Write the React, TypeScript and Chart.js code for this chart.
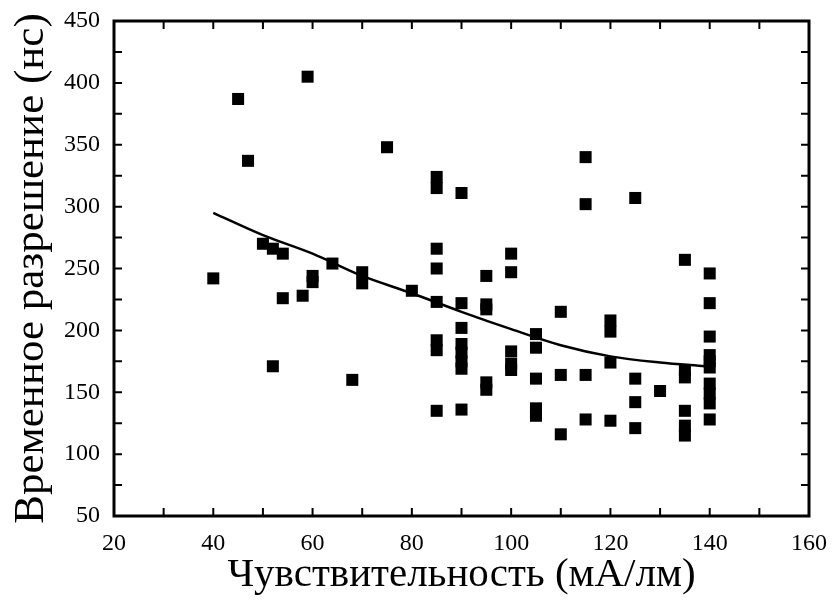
import React, { useEffect, useRef } from "react";
import { Chart, registerables } from "chart.js";

Chart.register(...registerables);

// Scatter data: sensitivity (mA/lm) vs time resolution (ns)
const sensitivity = [
  40, 45, 47, 50, 52, 54, 52, 54, 59, 58, 60, 60, 64, 68, 70, 70, 75, 80,
  85, 85, 85, 85, 85, 85, 85, 85,
  90, 90, 90, 90, 90, 90, 90, 90,
  95, 95, 95, 95, 95,
  100, 100, 100, 100, 100,
  105, 105, 105, 105, 105,
  110, 110, 110,
  115, 115, 115, 115,
  120, 120, 120, 120,
  125, 125, 125, 125,
  130,
  135, 135, 135, 135, 135, 135,
  140, 140, 140, 140, 140, 140, 140, 140, 140, 140,
];
const resolution = [
  242, 387, 337, 270, 266, 262, 171, 226, 405, 228, 244, 239, 254, 160, 247, 238, 348, 232,
  324, 315, 266, 250, 223, 192, 184, 135,
  311, 222, 202, 189, 182, 175, 169, 136,
  244, 221, 217, 158, 152,
  262, 247, 183, 173, 168,
  197, 186, 161, 137, 131,
  215, 164, 116,
  340, 302, 164, 128,
  208, 199, 174, 127,
  307, 161, 142, 121,
  151,
  257, 168, 162, 135, 123, 115,
  246, 222, 195, 180, 175, 170, 157, 149, 141, 128,
];

// Fitted curve
const fitX = [40, 50, 60, 70, 80, 90, 100, 110, 120, 130, 139];
const fitY = [295, 277, 262, 244, 230, 215, 201, 188, 179, 174, 171];

const X_MIN = 20;
const X_MAX = 160;
const X_LABEL_STEP = 20;
const X_TICK_STEP = 10;
const Y_MIN = 50;
const Y_MAX = 450;
const Y_LABEL_STEP = 50;
const Y_TICK_STEP = 25;

const X_TITLE = "Чувствительность (мА/лм)";
const Y_TITLE = "Временное разрешение (нс)";

const FONT = "'Liberation Serif', 'DejaVu Serif', serif";

const framePlugin = {
  id: "frameTicks",
  afterDatasetsDraw(chart: any) {
    const { ctx, chartArea, scales } = chart;
    const { left, right, top, bottom } = chartArea;
    const x = scales.x;
    const y = scales.y;
    const len = 8;
    ctx.save();
    ctx.strokeStyle = "#000";
    ctx.lineWidth = 2;
    ctx.beginPath();
    for (let v = X_MIN; v <= X_MAX; v += X_TICK_STEP) {
      const px = x.getPixelForValue(v);
      ctx.moveTo(px, bottom);
      ctx.lineTo(px, bottom - len);
      ctx.moveTo(px, top);
      ctx.lineTo(px, top + len);
    }
    for (let v = Y_MIN; v <= Y_MAX; v += Y_TICK_STEP) {
      const py = y.getPixelForValue(v);
      ctx.moveTo(left, py);
      ctx.lineTo(left + len, py);
      ctx.moveTo(right, py);
      ctx.lineTo(right - len, py);
    }
    ctx.stroke();
    ctx.lineWidth = 3;
    ctx.strokeRect(left, top, right - left, bottom - top);
    ctx.restore();
  },
};

function zeroPadding(s: any) {
  s.paddingTop = 0;
  s.paddingBottom = 0;
  s.paddingLeft = 0;
  s.paddingRight = 0;
}

export default function App() {
  const ref = useRef<HTMLCanvasElement | null>(null);

  useEffect(() => {
    if (!ref.current) return;
    const points = sensitivity.map((s, i) => ({ x: s, y: resolution[i] }));
    const fit = fitX.map((s, i) => ({ x: s, y: fitY[i] }));
    const chart = new Chart(ref.current, {
      type: "scatter",
      data: {
        datasets: [
          {
            type: "line",
            data: fit,
            borderColor: "#000",
            borderWidth: 2.5,
            pointRadius: 0,
            fill: false,
            tension: 0.4,
            cubicInterpolationMode: "monotone",
            showLine: true,
          } as any,
          {
            type: "scatter",
            data: points,
            pointStyle: "rect",
            pointRadius: 8.5,
            pointBorderWidth: 0,
            backgroundColor: "#000",
            borderColor: "#000",
          } as any,
        ],
      },
      options: {
        responsive: false,
        animation: false,
        events: [],
        layout: { padding: { left: 0, right: 25, top: 21, bottom: 0 } },
        plugins: { legend: { display: false }, tooltip: { enabled: false } },
        scales: {
          x: {
            type: "linear",
            min: X_MIN,
            max: X_MAX,
            grid: { display: false, drawTicks: false },
            border: { display: false },
            afterFit: (s: any) => {
              s.height = 84;
              zeroPadding(s);
            },
            ticks: {
              stepSize: X_LABEL_STEP,
              color: "#000",
              padding: 13,
              font: { family: FONT, size: 24 },
            },
            title: {
              display: true,
              text: X_TITLE,
              color: "#000",
              font: { family: FONT, size: 41 },
              padding: { top: 0, bottom: 0 },
            },
          },
          y: {
            type: "linear",
            min: Y_MIN,
            max: Y_MAX,
            grid: { display: false, drawTicks: false },
            border: { display: false },
            afterFit: (s: any) => {
              s.width = 114;
              zeroPadding(s);
            },
            ticks: {
              stepSize: Y_LABEL_STEP,
              color: "#000",
              padding: 14,
              font: { family: FONT, size: 24 },
            },
            title: {
              display: true,
              text: Y_TITLE,
              color: "#000",
              font: { family: FONT, size: 43 },
              padding: { top: 6, bottom: 0 },
            },
          },
        },
      },
      plugins: [framePlugin],
    });
    return () => chart.destroy();
  }, []);

  return (
    <div style={{ position: "absolute", left: 0, top: 0, width: 834, height: 600, background: "#fff" }}>
      <canvas ref={ref} width={834} height={600} style={{ display: "block" }} />
    </div>
  );
}
